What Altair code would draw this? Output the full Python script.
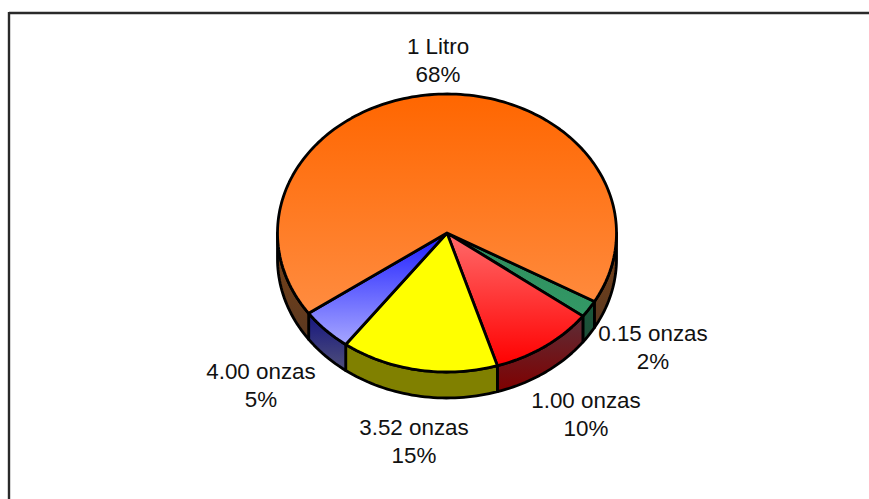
import numpy as np
import altair as alt

# Slice names and percentages, clockwise from the lower right of the pie
categories = ["0.15 onzas", "1.00 onzas", "3.52 onzas", "4.00 onzas", "1 Litro"]
shares = [2, 10, 15, 5, 68]

# Top face gradients (top colour, bottom colour)
top_colors = [
    ("#2E8B5C", "#339966"),
    ("#FF6B6B", "#FF0000"),
    ("#FFFF00", "#FFFF00"),
    ("#1C1CFF", "#A6A6FF"),
    ("#FF6600", "#FF8C40"),
]
# Side wall gradients
wall_colors = [
    ("#17593A", "#204D38"),
    ("#5C2E38", "#800000"),
    ("#808000", "#808000"),
    ("#141480", "#50507A"),
    ("#7A4318", "#5A3820"),
]
# Where each two-line caption sits: centre x, first baseline y
label_layout = {
    "0.15 onzas": (653, 341),
    "1.00 onzas": (586, 408),
    "3.52 onzas": (414, 435),
    "4.00 onzas": (261, 379),
    "1 Litro": (438, 54),
}

WIDTH, HEIGHT = 869, 499
CX, CY = 447, 233          # centre of the top face
RX = 169.5                 # horizontal radius in pixels
TILT = 139 / 169.5         # vertical squash of the tilted disc
DEPTH = 26 / 169.5         # wall height relative to the radius
START_DEG = 29.5           # screen angle where the first slice begins
LINE = 2.8


def rim(a0, a1, drop=0.0):
    """Points along the disc edge between two angles (degrees, clockwise on screen)."""
    n = max(2, int(abs(a1 - a0) / 1.5) + 2)
    t = np.radians(np.linspace(a0, a1, n))
    # y is flipped because the projection reflects it back
    return [[float(np.cos(v)), float(-np.sin(v) * TILT - drop)] for v in t]


def feature(ring):
    ring = ring + [ring[0]]
    return {"type": "Feature", "properties": {},
            "geometry": {"type": "Polygon", "coordinates": [ring]}}


def shape(ring, colors):
    grad = alt.Gradient(
        gradient="linear", x1=0, x2=0, y1=0, y2=1,
        stops=[alt.GradientStop(color=colors[0], offset=0),
               alt.GradientStop(color=colors[1], offset=1)],
    )
    return (
        alt.Chart(alt.Data(values=[feature(ring)]))
        .mark_geoshape(fill=grad, stroke="black", strokeWidth=LINE,
                       strokeJoin="round", filled=True)
        .project(type="identity", reflectY=True, scale=RX,
                 translate=[CX, CY])
    )


edges = START_DEG + 3.6 * np.concatenate([[0], np.cumsum(shares)])
walls, faces = [], []
for i in range(len(shares)):
    a0, a1 = float(edges[i]), float(edges[i + 1])
    # Walls show only on the near half of the disc (0..180 degrees and the wrap)
    for lo, hi in [(0, 180), (360, 540)]:
        w0, w1 = max(a0, lo), min(a1, hi)
        if w1 > w0:
            walls.append(shape(rim(w0, w1) + rim(w1, w0, DEPTH), wall_colors[i]))
    faces.append(shape([[0.0, 0.0]] + rim(a0, a1), top_colors[i]))

captions = [
    alt.Chart(alt.Data(values=[{"name": name}]))
    .mark_text(
        text=[name, f"{share}%"],
        x=label_layout[name][0], y=label_layout[name][1],
        align="center", baseline="alphabetic", lineHeight=28.3,
        font="Liberation Sans", fontSize=22.4, color="#111111",
    )
    .encode()
    for name, share in zip(categories, shares)
]

frame = [
    alt.Chart(alt.Data(values=[{}])).mark_rule(color="#2A2A2A", strokeWidth=2.4)
    .encode(x=alt.value(9), x2=alt.value(WIDTH), y=alt.value(13)),
    alt.Chart(alt.Data(values=[{}])).mark_rule(color="#2A2A2A", strokeWidth=2.4)
    .encode(x=alt.value(9), y=alt.value(12), y2=alt.value(HEIGHT)),
]

chart = (
    alt.layer(*frame, *walls, *faces, *captions)
    .properties(width=WIDTH, height=HEIGHT, padding=0,
                autosize=alt.AutoSizeParams(type="none"),
                background="white")
    .configure_view(stroke=None)
)

chart.save("out.html", embed_options={"renderer": "svg", "actions": False})
